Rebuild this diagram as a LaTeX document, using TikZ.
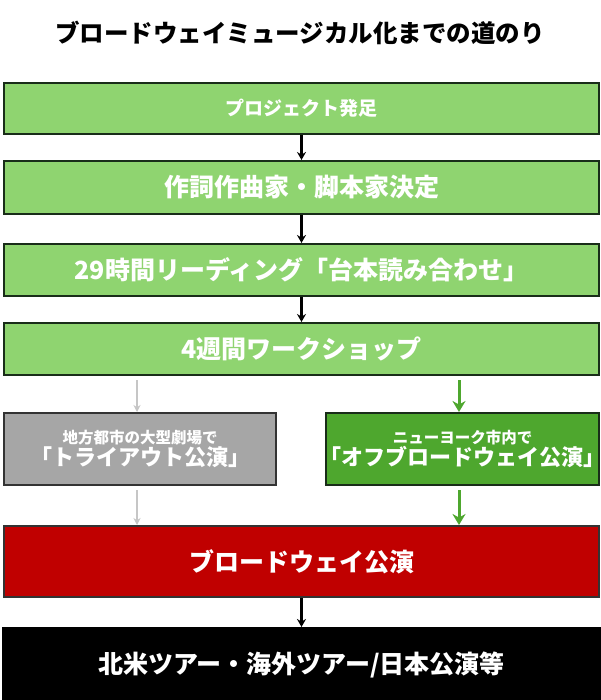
\documentclass[tikz,border=0pt]{standalone}
\usepackage{fontspec}
\usetikzlibrary{arrows.meta}
\newfontfamily\jp{Noto Sans CJK JP}
\definecolor{lg}{RGB}{143,212,112}
\definecolor{dg}{RGB}{78,167,46}
\definecolor{gy}{RGB}{166,166,166}
\definecolor{rd}{RGB}{192,0,0}
\definecolor{bd}{RGB}{25,45,25}
\begin{document}
\begin{tikzpicture}[x=1pt,y=-1pt,
 bx/.style={draw=#1,line width=2pt,inner sep=0pt,anchor=north west},
 ar/.style={-{Stealth[length=8pt,width=9pt]},line width=2.2pt},
 t/.style={font=\jp\bfseries\fontsize{#1}{#1}\selectfont,text=white}]
\useasboundingbox (0,0) rectangle (600,700);
\fill[white] (0,0) rectangle (600,700);
\node[font=\jp\bfseries\fontsize{24.5}{24.5}\selectfont] (title) at (300,33) {ブロードウェイミュージカル化までの道のり};
\node[bx=bd, fill=lg, minimum width=595, minimum height=51] (b1) at (3,82) {};
\node[t=19] at (b1) {プロジェクト発足};
\node[bx=bd, fill=lg, minimum width=595, minimum height=53] (b2) at (3,160) {};
\node[t=25] at (b2) {作詞作曲家・脚本家決定};
\node[bx=bd, fill=lg, minimum width=595, minimum height=52] (b3) at (3,243) {};
\node[t=25] at (b3) {29時間リーディング「台本読み合わせ」};
\node[bx=bd, fill=lg, minimum width=595, minimum height=52] (b4) at (3,322) {};
\node[t=25] at (b4) {4週間ワークショップ};
\node[bx=black!80, fill=gy, minimum width=272, minimum height=72] (g) at (3,412) {};
\node[t=15.5,align=center] at (g) {地方都市の大型劇場で\\[1pt]{\fontsize{22}{22}\selectfont「トライアウト公演」}};
\node[bx=bd, fill=dg, minimum width=273, minimum height=72] (o) at (325,412) {};
\node[t=15.5,align=center] at (o) {ニューヨーク市内で\\[1pt]{\fontsize{22}{22}\selectfont「オフブロードウェイ公演」}};
\node[bx=black!80, fill=rd, minimum width=595, minimum height=71] (r) at (3,525) {};
\node[t=25] at (r) {ブロードウェイ公演};
\node[bx=black, fill=black, minimum width=597, minimum height=74] (k) at (2,627) {};
\node[t=25] at (k) {北米ツアー・海外ツアー/日本公演等};
\draw[ar] (b1.south) -- (b2.north);
\draw[ar] (b2.south) -- (b3.north);
\draw[ar] (b3.south) -- (b4.north);
\draw[ar] (r.south) -- (k.north);
\coordinate (gx) at (137,0); \coordinate (ox) at (459,0);
\draw[line width=1.4pt,gray!45,-{Stealth[length=7pt,width=7pt]}] (b4.south -| gx) ++(0,4) -- (g.north -| gx);
\draw[line width=1.4pt,gray!45,-{Stealth[length=7pt,width=7pt]}] (g.south -| gx) ++(0,4) -- (r.north -| gx);
\draw[line width=3pt,dg,-{Stealth[length=11pt,width=13pt]}] (b4.south -| ox) ++(0,4) -- (o.north -| ox);
\draw[line width=3pt,dg,-{Stealth[length=11pt,width=13pt]}] (o.south -| ox) ++(0,4) -- (r.north -| ox);
\end{tikzpicture}
\end{document}
